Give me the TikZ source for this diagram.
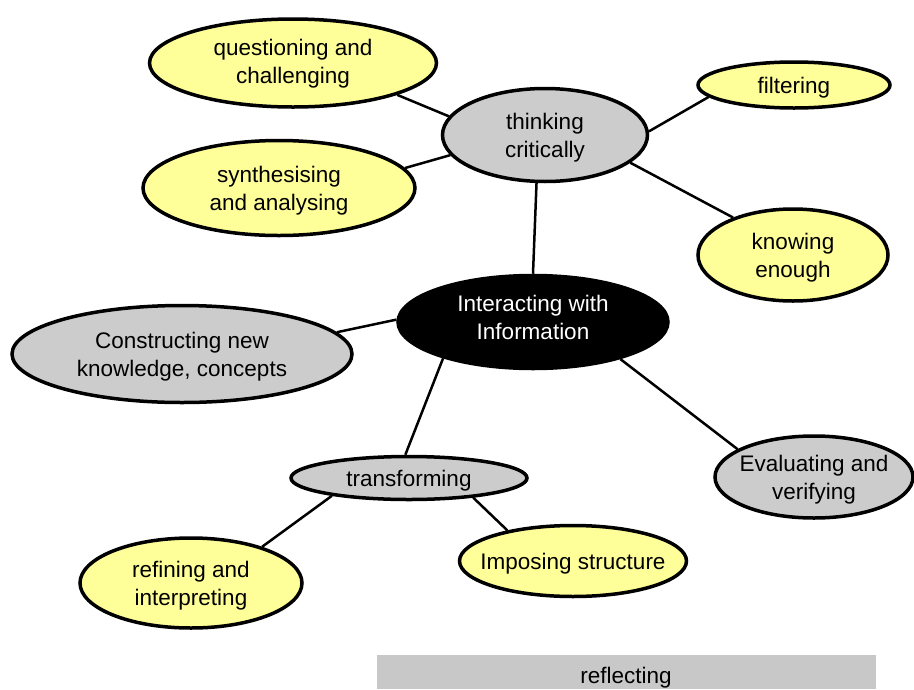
\documentclass[tikz,border=0pt]{standalone}
\usepackage{fontspec}
\setmainfont{Liberation Sans}
\usetikzlibrary{shapes, backgrounds}
\definecolor{ideayellow}{HTML}{FFFF99}
\definecolor{ideagrey}{HTML}{CCCCCC}
\definecolor{bargrey}{HTML}{C8C8C8}

\begin{document}
\begin{tikzpicture}[x=1pt, y=-1pt,
	ideatext/.style={align=center, inner sep=0pt, yshift=-2.5pt, font=\fontsize{22.5}{28}\selectfont},
	idea/.style={ellipse, draw=black, line width=3.5pt, inner sep=0pt},
	yellowidea/.style={idea, fill=ideayellow},
	greyidea/.style={idea, fill=ideagrey},
	link/.style={line width=2.5pt, black}]

	\useasboundingbox (0,0) rectangle (914,689);

	% central idea
	\node[idea, fill=black, minimum width=270pt, minimum height=93pt,
		label={[ideatext, text=white, yshift=7.5pt]center:Interacting with\\Information}] (inter) at (533,322) {};

	\node[greyidea, minimum width=205pt, minimum height=93pt,
		label={[ideatext]center:thinking\\critically}] (think) at (545,135) {};
	\node[yellowidea, minimum width=287pt, minimum height=88pt,
		label={[ideatext, yshift=2pt]center:questioning and\\challenging}] (quest) at (293,63) {};
	\node[yellowidea, minimum width=272pt, minimum height=95pt,
		label={[ideatext]center:synthesising\\and analysing}] (synth) at (279,188) {};
	\node[yellowidea, minimum width=192pt, minimum height=46pt,
		label={[ideatext]center:filtering}] (filt) at (794,85) {};
	\node[yellowidea, minimum width=190pt, minimum height=92pt,
		label={[ideatext]center:knowing\\enough}] (know) at (793,255) {};

	\node[greyidea, minimum width=340pt, minimum height=97pt,
		label={[ideatext]center:Constructing new\\knowledge, concepts}] (constr) at (182,354) {};
	\node[greyidea, minimum width=198pt, minimum height=82pt,
		label={[ideatext]center:Evaluating and\\verifying}] (eval) at (814,477) {};

	\node[greyidea, minimum width=236pt, minimum height=43pt,
		label={[ideatext]center:transforming}] (trans) at (409,478) {};
	\node[yellowidea, minimum width=227pt, minimum height=71pt,
		label={[ideatext]center:Imposing structure}] (impose) at (573,561) {};
	\node[yellowidea, minimum width=222pt, minimum height=90pt,
		label={[ideatext]center:refining and\\interpreting}] (refine) at (191,583) {};

	\fill[bargrey] (377,655) rectangle (876,689);
	\node[ideatext, yshift=-2.5pt] (reflect) at (626,673) {reflecting};

	\begin{scope}[on background layer]
		\draw[link] (quest.-17) -- (think.169);
		\draw[link] (synth.9) -- (think.192);
		\draw[link] (think.2) -- (filt.188);
		\draw[link] (think.-18) -- (know.148);
		\draw[link] (think.-100) -- (inter.north);
		\draw[link] (constr.8) -- (inter.179);
		\draw[link] (inter.202) -- (trans.99);
		\draw[link] (inter.-23) -- (eval.160);
		\draw[link] (trans.193) -- (refine.27);
		\draw[link] (trans.-17) -- (impose.155);
	\end{scope}
\end{tikzpicture}
\end{document}
